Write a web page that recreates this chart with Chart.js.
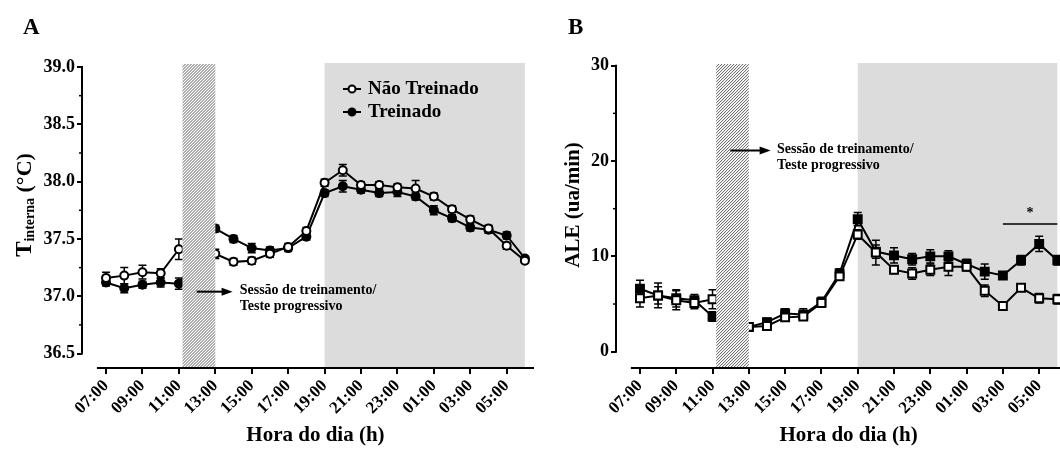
<!DOCTYPE html>
<html>
<head>
<meta charset="utf-8">
<script src="https://cdn.jsdelivr.net/npm/chart.js@4.4.0/dist/chart.umd.min.js"></script>
<style>
    html, body { margin: 0; padding: 0; background: #fff; width: 1060px; height: 450px; overflow: hidden; }
    .panel { position: absolute; top: 0; width: 540px; height: 450px; }
</style>
</head>
<body>
<div class="panel" style="left:0"><canvas id="chartA" width="540" height="450"></canvas></div>
<div class="panel" style="left:534px"><canvas id="chartB" width="540" height="450"></canvas></div>
<script>
// Hours of the day (13..30 wraps past midnight); no reading at 12:00 (session)
const hours = [7, 8, 9, 10, 11, 13, 14, 15, 16, 17, 18, 19, 20, 21, 22, 23, 24, 25, 26, 27, 28, 29, 30];
const hourTicks = [7, 9, 11, 13, 15, 17, 19, 21, 23, 25, 27, 29];

// Core temperature (°C), mean and SEM
const tempNaoTreinado = [37.16, 37.18, 37.21, 37.20, 37.41, 37.37, 37.30, 37.31, 37.37, 37.43, 37.57, 37.99, 38.10, 37.97, 37.97, 37.95, 37.94, 37.87, 37.76, 37.67, 37.59, 37.44, 37.31];
const tempTreinado    = [37.12, 37.07, 37.10, 37.12, 37.11, 37.59, 37.50, 37.42, 37.40, 37.42, 37.52, 37.90, 37.96, 37.93, 37.90, 37.91, 37.87, 37.75, 37.68, 37.60, 37.58, 37.53, 37.33];
const tempErrNaoTreinado = [0.05, 0.07, 0.06, 0.04, 0.09, 0.04, 0.03, 0.03, 0.03, 0.03, 0.03, 0.03, 0.05, 0.03, 0.03, 0.03, 0.07, 0.03, 0.03, 0.03, 0.03, 0.03, 0.02];
const tempErrTreinado    = [0.03, 0.04, 0.03, 0.04, 0.05, 0.03, 0.03, 0.04, 0.03, 0.03, 0.03, 0.03, 0.05, 0.03, 0.03, 0.04, 0.03, 0.04, 0.03, 0.03, 0.03, 0.03, 0.02];
const tempTicks = [36.5, 37.0, 37.5, 38.0, 38.5, 39.0];

// Spontaneous locomotor activity (ua/min), mean and SEM
const aleNaoTreinado = [5.6, 5.9, 5.4, 5.1, 5.5, 2.6, 2.7, 3.6, 3.7, 5.1, 7.9, 12.3, 10.4, 8.6, 8.2, 8.6, 8.9, 8.9, 6.4, 4.8, 6.7, 5.6, 5.5];
const aleTreinado    = [6.6, 5.9, 5.6, 5.4, 3.7, 2.6, 3.1, 4.0, 3.9, 5.2, 8.2, 13.9, 10.5, 10.1, 9.7, 10.0, 10.0, 9.2, 8.4, 8.0, 9.6, 11.3, 9.6];
const aleErrNaoTreinado = [0.9, 1.3, 1.0, 0.6, 1.0, 0.4, 0.4, 0.4, 0.4, 0.4, 0.4, 0.5, 1.3, 0.4, 0.6, 0.6, 0.9, 0.4, 0.6, 0.3, 0.3, 0.5, 0.5];
const aleErrTreinado    = [0.9, 0.9, 0.9, 0.6, 0.5, 0.4, 0.4, 0.5, 0.6, 0.5, 0.5, 0.7, 0.7, 0.8, 0.6, 0.7, 0.6, 0.5, 0.8, 0.3, 0.5, 0.8, 0.5];
const aleTicks = [0, 10, 20, 30];

const sessao = [11.2, 13.0];     // training session / progressive test
const faseEscura = [19, 30];     // dark phase
const seriesNames = ['Não Treinado', 'Treinado'];

const FONT = '"Liberation Serif", "Times New Roman", serif';

function hourLabel(h) {
    return String(h % 24).padStart(2, '0') + ':00';
}

function points(values) {
    return hours.map((h, i) => ({ x: h, y: values[i] }));
}

function drawArrow(ctx, x0, y0, x1, y1) {
    ctx.beginPath();
    ctx.moveTo(x0, y0);
    ctx.lineTo(x1 - 8, y1);
    ctx.lineWidth = 2;
    ctx.stroke();
    ctx.beginPath();
    ctx.moveTo(x1, y1);
    ctx.lineTo(x1 - 11, y1 - 4);
    ctx.lineTo(x1 - 11, y1 + 4);
    ctx.closePath();
    ctx.fill();
}

// Shading, error bars, hatch, offset axes and labels for one panel
function panelDecor(d) {
    return {
        id: 'panelDecor',
        beforeDatasetsDraw(chart) {
            const { ctx, chartArea: a, scales: { x, y } } = chart;
            ctx.save();
            const gx0 = x.getPixelForValue(faseEscura[0]);
            const gx1 = x.getPixelForValue(faseEscura[1]);
            ctx.fillStyle = '#dcdcdc';
            ctx.fillRect(gx0, a.top, gx1 - gx0, a.bottom - a.top);

            // error bars go under the markers
            ctx.strokeStyle = '#000';
            ctx.lineWidth = 1.5;
            chart.data.datasets.forEach(ds => {
                ds.data.forEach((p, i) => {
                    const e = ds.errors[i];
                    const px = x.getPixelForValue(p.x);
                    const top = y.getPixelForValue(p.y + e);
                    const bot = y.getPixelForValue(p.y - e);
                    ctx.beginPath();
                    ctx.moveTo(px, top); ctx.lineTo(px, bot);
                    ctx.moveTo(px - 4, top); ctx.lineTo(px + 4, top);
                    ctx.moveTo(px - 4, bot); ctx.lineTo(px + 4, bot);
                    ctx.stroke();
                });
            });
            ctx.restore();
        },
        afterDatasetsDraw(chart) {
            const { ctx, chartArea: a, scales: { x, y } } = chart;
            ctx.save();

            // hatched session band over the series
            const hx0 = x.getPixelForValue(sessao[0]);
            const hx1 = x.getPixelForValue(sessao[1]);
            const top = a.top + 1, h = a.bottom - top, w = hx1 - hx0;
            ctx.fillStyle = '#fff';
            ctx.fillRect(hx0, top, w, h);
            ctx.save();
            ctx.beginPath();
            ctx.rect(hx0, top, w, h);
            ctx.clip();
            ctx.strokeStyle = '#4a4a4a';
            ctx.lineWidth = 0.9;
            ctx.beginPath();
            for (let k = -h; k < w + h; k += 3) {
                ctx.moveTo(hx0 + k, a.bottom);
                ctx.lineTo(hx0 + k + h, top);
            }
            ctx.stroke();
            ctx.restore();

            // offset axis lines
            ctx.strokeStyle = '#000';
            ctx.fillStyle = '#000';
            ctx.lineWidth = 2;
            const yTop = y.getPixelForValue(d.yTicks[d.yTicks.length - 1]);
            const yBot = y.getPixelForValue(d.yTicks[0]);
            ctx.beginPath();
            ctx.moveTo(a.left, yTop - 1);
            ctx.lineTo(a.left, yBot + 1);
            ctx.moveTo(x.getPixelForValue(6.5), a.bottom);
            ctx.lineTo(a.right, a.bottom);
            ctx.stroke();
            // minor y ticks
            ctx.lineWidth = 1.5;
            for (let i = 0; i < d.yTicks.length - 1; i++) {
                const py = y.getPixelForValue((d.yTicks[i] + d.yTicks[i + 1]) / 2);
                ctx.beginPath();
                ctx.moveTo(a.left - 3, py);
                ctx.lineTo(a.left, py);
                ctx.stroke();
            }

            // panel letter
            ctx.textBaseline = 'alphabetic';
            ctx.textAlign = 'left';
            ctx.font = 'bold 23px ' + FONT;
            ctx.fillText(d.letter, d.letterX, 34);

            // x title
            ctx.font = 'bold 21px ' + FONT;
            ctx.textAlign = 'center';
            ctx.textBaseline = 'middle';
            ctx.fillText('Hora do dia (h)', (x.getPixelForValue(6.5) + a.right) / 2, 436);

            // y title, rotated, with optional subscript part
            ctx.save();
            ctx.translate(d.yTitleX, 205);
            ctx.rotate(-Math.PI / 2);
            ctx.textAlign = 'left';
            ctx.textBaseline = 'middle';
            let total = 0;
            d.yTitle.forEach(part => {
                ctx.font = 'bold ' + part.size + 'px ' + FONT;
                total += ctx.measureText(part.text).width;
            });
            let cx = -total / 2;
            d.yTitle.forEach(part => {
                ctx.font = 'bold ' + part.size + 'px ' + FONT;
                ctx.fillText(part.text, cx, part.shift || 0);
                cx += ctx.measureText(part.text).width;
            });
            ctx.restore();

            // session note with arrow
            const n = d.note;
            const ay = y.getPixelForValue(n.y);
            drawArrow(ctx, x.getPixelForValue(n.from), ay, x.getPixelForValue(n.to), ay);
            ctx.font = 'bold 14px ' + FONT;
            ctx.textAlign = 'left';
            ctx.textBaseline = 'middle';
            const tx = x.getPixelForValue(n.textX);
            ctx.fillText('Sessão de treinamento/', tx, ay - 1);
            ctx.fillText('Teste progressivo', tx, ay + 15);

            // significance bar
            if (d.sig) {
                const sy = y.getPixelForValue(d.sig.y);
                ctx.lineWidth = 1.5;
                ctx.beginPath();
                ctx.moveTo(x.getPixelForValue(d.sig.from), sy);
                ctx.lineTo(x.getPixelForValue(d.sig.to), sy);
                ctx.stroke();
                ctx.font = 'bold 14px ' + FONT;
                ctx.textAlign = 'center';
                ctx.fillText('*', x.getPixelForValue((d.sig.from + d.sig.to) / 2), sy - 11);
            }

            // legend
            if (d.legend) {
                chart.data.datasets.forEach((ds, i) => {
                    const ly = d.legend.y + i * 23;
                    const lx = d.legend.x;
                    ctx.lineWidth = 2;
                    ctx.strokeStyle = '#000';
                    ctx.beginPath();
                    ctx.moveTo(lx - 9, ly);
                    ctx.lineTo(lx + 9, ly);
                    ctx.stroke();
                    ctx.beginPath();
                    ctx.arc(lx, ly, 3.5, 0, Math.PI * 2);
                    ctx.fillStyle = ds.backgroundColor;
                    ctx.fill();
                    ctx.stroke();
                    ctx.fillStyle = '#000';
                    ctx.font = 'bold 19px ' + FONT;
                    ctx.textAlign = 'left';
                    ctx.textBaseline = 'middle';
                    ctx.fillText(ds.label, lx + 16, ly);
                });
            }
            ctx.restore();
        }
    };
}

function makeChart(id, cfg) {
    const series = (label, values, errors, filled) => ({
        label: label,
        data: points(values),
        errors: errors,
        borderColor: '#000',
        borderWidth: 2,
        backgroundColor: filled ? '#000' : '#fff',
        pointBackgroundColor: filled ? '#000' : '#fff',
        pointBorderColor: '#000',
        pointBorderWidth: 2,
        pointStyle: cfg.pointStyle,
        pointRadius: cfg.pointRadius,
        tension: 0
    });

    return new Chart(document.getElementById(id), {
        type: 'line',
        data: {
            datasets: [
                series(seriesNames[0], cfg.naoTreinado, cfg.errNao, false),
                series(seriesNames[1], cfg.treinado, cfg.errTre, true)
            ]
        },
        plugins: [panelDecor(cfg.decor)],
        options: {
            responsive: false,
            animation: false,
            events: [],
            layout: { padding: { top: 63, right: 5, left: 0, bottom: 0 } },
            plugins: {
                legend: { display: false },
                tooltip: { enabled: false }
            },
            scales: {
                x: {
                    type: 'linear',
                    min: 5.68,
                    max: 30.5,
                    afterBuildTicks: s => { s.ticks = hourTicks.map(v => ({ value: v })); },
                    afterFit: s => { s.height = 82; },
                    border: { display: false },
                    grid: { drawOnChartArea: false, tickLength: 6, color: '#000', lineWidth: 2 },
                    ticks: {
                        autoSkip: false, maxRotation: 45, minRotation: 45, padding: 2,
                        color: '#000', font: { family: FONT, size: 17, weight: 'bold' },
                        callback: v => hourLabel(v)
                    }
                },
                y: {
                    min: cfg.yMin,
                    max: cfg.yMax,
                    afterBuildTicks: s => { s.ticks = cfg.yTicks.map(v => ({ value: v })); },
                    afterFit: s => { s.width = 82; },
                    border: { display: false },
                    grid: { drawOnChartArea: false, tickLength: 5, color: '#000', lineWidth: 2 },
                    ticks: {
                        padding: 2, color: '#000', font: { family: FONT, size: 18, weight: 'bold' },
                        callback: cfg.tickFormat
                    }
                }
            }
        }
    });
}

makeChart('chartA', {
    naoTreinado: tempNaoTreinado, treinado: tempTreinado,
    errNao: tempErrNaoTreinado, errTre: tempErrTreinado,
    pointStyle: 'circle', pointRadius: 4,
    yMin: 36.374, yMax: 39.035, yTicks: tempTicks,
    tickFormat: v => v.toFixed(1),
    decor: {
        letter: 'A', letterX: 23, yTicks: tempTicks, yTitleX: 25,
        yTitle: [{ text: 'T', size: 23 }, { text: 'interna', size: 14, shift: 5 }, { text: ' (°C)', size: 22 }],
        note: { from: 11.98, to: 13.95, textX: 14.34, y: 37.04 },
        legend: { x: 352, y: 89 }
    }
});

makeChart('chartB', {
    naoTreinado: aleNaoTreinado, treinado: aleTreinado,
    errNao: aleErrNaoTreinado, errTre: aleErrTreinado,
    pointStyle: 'rect', pointRadius: 5.6,
    yMin: -1.71, yMax: 30.28, yTicks: aleTicks,
    tickFormat: v => String(v),
    decor: {
        letter: 'B', letterX: 34, yTicks: aleTicks, yTitleX: 40,
        yTitle: [{ text: 'ALE (ua/min)', size: 21 }],
        note: { from: 11.98, to: 14.2, textX: 14.55, y: 21.1 },
        sig: { from: 27, to: 30, y: 13.4 }
    }
});
</script>
</body>
</html>
